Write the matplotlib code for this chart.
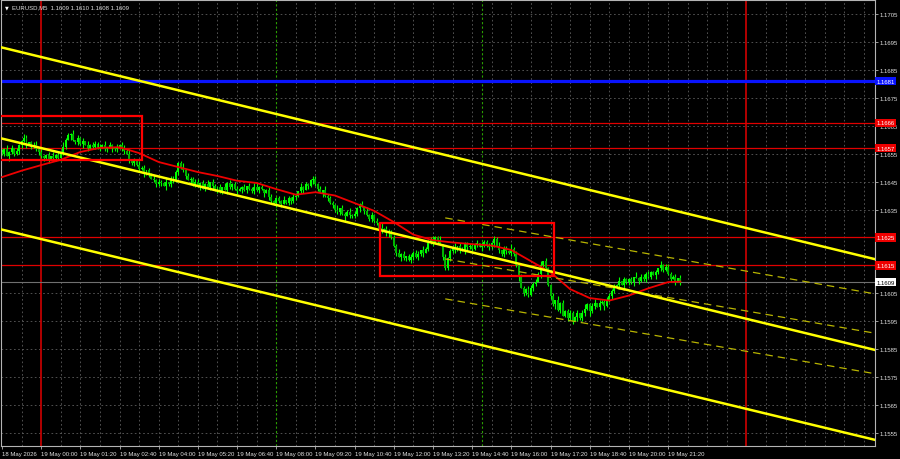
import numpy as np
import matplotlib.pyplot as plt
import matplotlib.transforms as mtransforms
from matplotlib.patches import Rectangle

plt.rcParams['font.family'] = ['Liberation Sans', 'DejaVu Sans']

# EURUSD M5, first bar = 18 May 22:40. closes in pips above 1.1600
first_open = 55.5
closes = [
    55, 56.5, 54, 55.5, 57, 55, 56, 58,
    59.5, 60.5, 58.5, 59, 57.5, 58, 56.5, 55.5,
    54, 53.5, 54.5, 53, 54, 53.5, 54.5, 53.5,
    55, 57.5, 60, 61.5, 62, 60, 59, 60.5,
    58.5, 59.5, 58, 57, 58, 57.5, 58.5, 57,
    57.5, 58, 56.5, 57.5, 58, 57, 56.5, 57.5,
    58, 57, 56, 55, 53, 51.5, 52.5, 51,
    49.5, 50, 48, 49, 47.5, 46, 45.5, 44,
    45, 44.5, 43.5, 45, 44, 46, 45.5, 48.5,
    51.5, 50, 49, 47, 45.5, 46, 44, 45,
    43.5, 44.5, 42.5, 44, 43, 45, 43.5, 42,
    43, 41.5, 43, 42, 44.5, 43, 44, 42.5,
    41.5, 42.5, 43, 42, 43.5, 42.5, 41.5, 43,
    42, 43, 42.5, 41, 42, 39.5, 38, 37.5,
    39, 38, 37, 38.5, 37.5, 39, 38, 39.5,
    40, 41.5, 43, 42, 44, 43.5, 45.5, 46,
    44, 42.5, 41, 42, 40, 39, 37.5, 36.5,
    35, 34, 35.5, 33.5, 32.5, 34, 33, 32.5,
    33.5, 35.5, 37, 36, 34.5, 33, 31.5, 33,
    31, 30, 28.5, 27.5, 28, 26.5, 27, 25,
    22, 19.5, 18, 19, 17.5, 18.5, 17, 18,
    19.5, 18, 19, 20.5, 19.5, 21, 23, 24.5,
    23.5, 25, 24, 22.5, 18, 14, 17.5, 20,
    21.5, 20.5, 22, 21, 20, 22.5, 21.5, 22,
    21, 22.5, 23, 21.5, 22, 23.5, 22, 21.5,
    23, 24.5, 22, 20.5, 19, 21, 20, 19.5,
    21, 19, 15, 11, 7, 5, 6.5, 4.5,
    7, 8.5, 9, 12, 15, 16.5, 14, 8,
    4, 1, 2.5, -1, 1.5, -3, -1.5, -4,
    -2, -5, -3.5, -2, -4, -2, -0.5, 1,
    -1.5, 0.5, 1.5, 0, 1.5, 2, 0.5, 2.5,
    4, 6, 7.5, 8, 9.5, 8, 10, 9,
    10, 9, 11, 10.5, 9.5, 11, 10, 12,
    11, 12.5, 11.5, 12.5, 14, 15, 13.5, 14.5,
    12, 10, 11, 9.5, 10.5, 9,
]
# wick lengths beyond the body, in half pips
hi_wick = ("21312021 13201231 21120312 23121302 12031221 21302112 12213021 31202131 "
           "21130221 12302112 21213021 12031212 21120213 31201221 12130212 20312112 "
           "21203121 13021231 21120312 12031221 21312012 12203121 21130212 13021221 "
           "21203112 12130221 31202112 21213021 12031212 21120231 12302112 21213021 "
           "12031221 21120312 211202")
lo_wick = ("12031212 21302112 12130221 21203112 13021221 21120312 12203121 21312012 "
           "12031221 21120312 13021231 21203121 20312112 12130212 31201221 21120213 "
           "12031212 21213021 12302112 21120231 12031212 21213021 31202112 12130221 "
           "21203112 13021221 21130212 12203121 21312012 12031221 31202131 12213021 "
           "21302112 12031221 120312")

# moving average (pips above 1.1600)
ma_bars = [0, 8, 16, 24, 32, 40, 48, 56, 64, 72, 80, 88, 96, 104, 112, 120, 128, 136,
           144, 152, 160, 168, 176, 184, 192, 200, 208, 216, 224, 232, 240, 248, 256,
           264, 272, 277]
ma_vals = [46.6, 48.9, 50.9, 52.8, 55.6, 57.1, 57.3, 55.2, 52.0, 50.2, 48.4, 47.0, 45.3,
           44.5, 42.3, 40.3, 41.2, 40.0, 37.3, 34.5, 30.5, 26.0, 24.0, 23.2, 22.6, 22.1,
           20.5, 16.5, 12.5, 6.5, 3.3, 2.4, 4.2, 6.8, 9.0, 9.2]

# levels
blue_level = 1.1681
red_levels = [1.1666, 1.1657, 1.1625, 1.1615]
last_price = 1.1609

# channel (bar, price) anchors
chan_upper = [(0, 1.16930), (350, 1.16186)]
chan_mid = [(0, 1.16604), (350, 1.15861)]
chan_lower = [(0, 1.16278), (350, 1.15539)]
dash_start = 181
dash_upper = [(181, 1.16320), (350, 1.16058)]
dash_mid = [(181, 1.16173), (350, 1.15917)]
dash_lower = [(181, 1.16030), (350, 1.15772)]

# boxes: bar from, bar to, price low, price high
boxes = [(-1, 57.2, 1.16527, 1.16685), (154.3, 225.4, 1.16112, 1.16302)]

red_vlines = [16, 304]
green_vlines = [112, 196]

tick_bars = list(range(0, 273, 16))
tick_labels = ['18 May 2026', '19 May 00:00', '19 May 01:20', '19 May 02:40', '19 May 04:00',
               '19 May 05:20', '19 May 06:40', '19 May 08:00', '19 May 09:20', '19 May 10:40',
               '19 May 12:00', '19 May 13:20', '19 May 14:40', '19 May 16:00', '19 May 17:20',
               '19 May 18:40', '19 May 20:00', '19 May 21:20']
price_ticks = [1.1555 + 0.001 * i for i in range(16)]
# labels sitting right under a price tag are hidden on the terminal
hidden_ticks = ['1.1625', '1.1615']


fig = plt.figure(figsize=(9, 4.6), dpi=100, facecolor='black')
ax = fig.add_axes([1 / 900, 13 / 460, 874 / 900, 446 / 460], facecolor='black')
ax.set_xlim(-0.41, 356.5)
ax.set_ylim(1.155033, 1.171001)

# grid
for g in range(8, 357, 8):
    if g in red_vlines or g in green_vlines:
        continue
    ax.axvline(g, color='#5e5e5e', lw=0.6, ls=(0, (2, 3)), zorder=0)
for p in price_ticks:
    ax.axhline(p, color='#5e5e5e', lw=0.6, ls=(0, (2, 3)), zorder=0)

for v in green_vlines:
    ax.axvline(v, color='#2aa000', lw=0.8, ls=(0, (2, 2)), zorder=0.5)
for v in red_vlines:
    ax.axvline(v, color='#d00000', lw=1.2, zorder=0.5)

# levels
ax.axhline(blue_level, color='#0a14ff', lw=2.3, zorder=1)
for lv in red_levels:
    ax.axhline(lv, color='#e00000', lw=0.9, zorder=1)
ax.axhline(last_price, color='#707070', lw=0.8, zorder=1)

# candles
c = 1.16 + np.array(closes) / 1e4
o = np.r_[1.16 + first_open / 1e4, c[:-1]]
hw = np.array([int(ch) for ch in hi_wick.replace(' ', '')]) * 0.5e-4
lw_ = np.array([int(ch) for ch in lo_wick.replace(' ', '')]) * 0.5e-4
hi = np.maximum(o, c) + hw
lo = np.minimum(o, c) - lw_
k = np.arange(len(c))
up = c >= o
ax.vlines(k, lo, hi, color='#00ff00', lw=0.8, zorder=2)
body = np.maximum(np.abs(c - o), 0.00002)
ax.bar(k[up], body[up], bottom=np.minimum(o, c)[up], width=0.8, color='#00ff00', lw=0, zorder=2.1)
ax.bar(k[~up], body[~up], bottom=np.minimum(o, c)[~up], width=0.8, color='#00b400', lw=0, zorder=2.1)

# moving average
ax.plot(ma_bars, 1.16 + np.array(ma_vals) / 1e4, color='#ee0000', lw=1.3, zorder=3)

# channel
for line in (chan_upper, chan_mid, chan_lower):
    ax.axline(line[0], line[1], color='#ffff00', lw=1.8, zorder=4)
for line in (dash_upper, dash_mid, dash_lower):
    (x0, y0), (x1, y1) = line
    slope = (y1 - y0) / (x1 - x0)
    xs = np.array([dash_start, 360])
    ax.plot(xs, y0 + slope * (xs - x0), color='#b8b400', lw=0.9, ls=(0, (6, 4)), zorder=3.5)

for (b0, b1, p0, p1) in boxes:
    ax.add_patch(Rectangle((b0, p0), b1 - b0, p1 - p0, fill=False, ec='#ff0000', lw=1.6, zorder=5))

# axes styling
for s in ax.spines.values():
    s.set_color('#b4b4b4')
    s.set_linewidth(0.8)
ax.yaxis.tick_right()
ax.set_yticks(price_ticks)
ylabels = ['%.4f' % p for p in price_ticks]
ax.set_yticklabels(['' if t in hidden_ticks else t for t in ylabels])
ax.set_xticks(tick_bars)
ax.set_xticklabels(tick_labels)
ax.tick_params(colors='#b4b4b4', labelcolor='#e0e0e0', labelsize=4.3, length=2, width=0.6)
ax.tick_params(axis='x', pad=1.5)
ax.tick_params(axis='y', pad=1.5)
for t in ax.get_xticklabels():
    t.set_ha('left')

# price tags on the right
tr = mtransforms.blended_transform_factory(ax.transAxes, ax.transData)
tags = [(blue_level, '#0a14ff', 'white')] + [(lv, '#ee0000', 'white') for lv in red_levels] \
    + [(last_price, 'white', 'black')]
for val, bg, fg in tags:
    ax.text(1.0015, val, '%.4f' % val, transform=tr, ha='left', va='center', fontsize=4.3,
            color=fg, clip_on=False, zorder=10,
            bbox=dict(boxstyle='square,pad=0.3', fc=bg, ec='none'))

# header
ax.text(0.004, 0.984, '\u25bc', transform=ax.transAxes, fontsize=3.5, color='white',
        ha='left', va='center', family=['DejaVu Sans'])
ax.text(0.013, 0.984, 'EURUSD,M5  1.1609 1.1610 1.1608 1.1609', transform=ax.transAxes,
        fontsize=4.3, color='#e0e0e0', ha='left', va='center')

fig.savefig('out.png', dpi=100, facecolor='black')
